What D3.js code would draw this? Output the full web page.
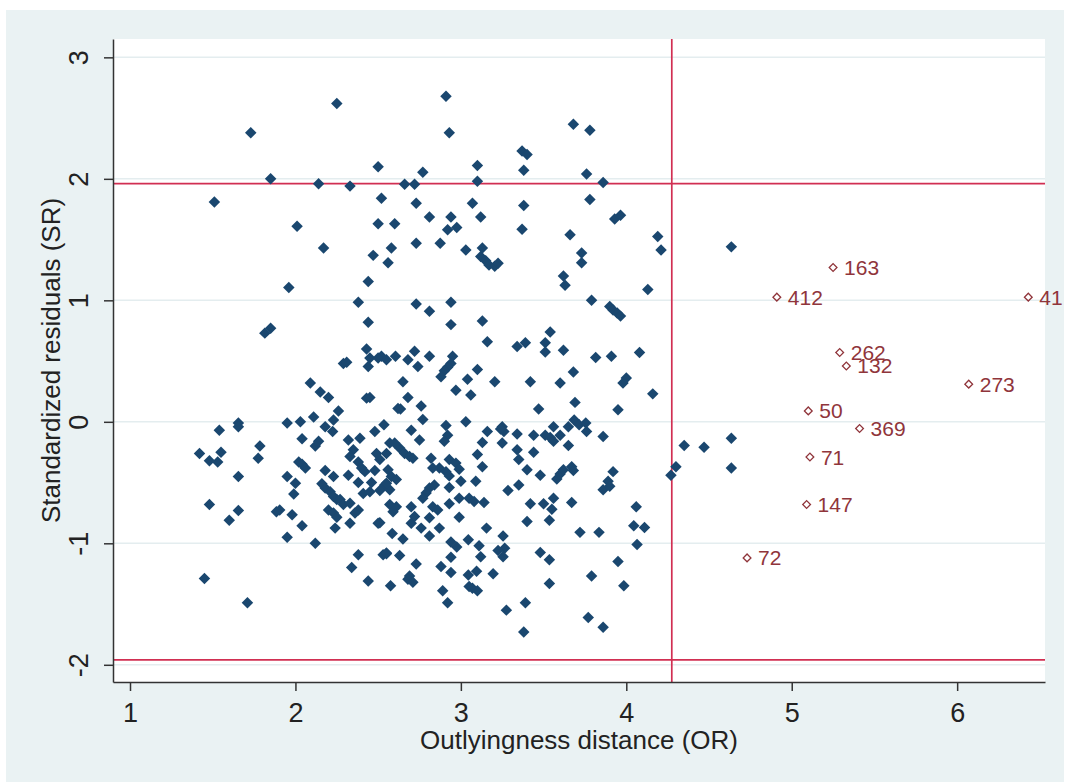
<!DOCTYPE html>
<html>
<head>
<meta charset="utf-8">
<script src="https://cdn.jsdelivr.net/npm/d3@7"></script>
<style>
  body { margin: 0; background: #fff; }
  svg { display: block; font-family: "Liberation Sans", Arial, sans-serif; }
</style>
</head>
<body>
<svg id="svg" width="1068" height="783"></svg>
<script>
"use strict";

// tick labels
const xTicks = [1, 2, 3, 4, 5, 6];
const yTicks = [-2, -1, 0, 1, 2, 3];

// cut-off lines
const srCut = [-1.96, 1.96];
const orCut = 4.275;

// observations: [outlyingness distance, standardized residual]
const points = [
  [2.25,2.62],[1.73,2.38],[1.85,2.00],[1.51,1.81],[2.01,1.61],[2.14,1.96],[2.33,1.94],[2.50,2.10],
  [2.52,1.84],[2.50,1.63],[2.60,1.63],[2.17,1.43],[2.47,1.37],[2.58,1.43],[2.56,1.31],[1.96,1.105],
  [2.44,1.155],[2.38,0.985],[2.91,2.68],[2.93,2.38],[3.68,2.45],[3.78,2.40],[3.37,2.23],[3.40,2.20],
  [3.38,2.07],[3.10,2.11],[3.10,1.98],[2.77,2.055],[2.66,1.955],[2.72,1.955],[2.73,1.80],[2.81,1.685],
  [2.94,1.685],[2.92,1.58],[2.975,1.60],[3.07,1.80],[3.12,1.685],[3.38,1.78],[3.37,1.585],[3.76,2.04],
  [3.86,1.97],[3.78,1.83],[3.93,1.67],[3.965,1.70],[3.66,1.54],[3.73,1.39],[3.73,1.31],[3.62,1.20],
  [3.63,1.125],[3.79,1.00],[4.13,1.09],[4.19,1.525],[4.21,1.415],[4.635,1.44],[2.73,1.47],[2.875,1.47],
  [3.03,1.415],[3.13,1.43],[3.12,1.36],[3.15,1.325],[3.17,1.29],[3.205,1.28],[3.225,1.305],[2.94,0.985],
  [2.73,0.97],[2.81,0.91],[2.94,0.80],[3.13,0.83],[3.90,0.95],[3.92,0.92],[3.945,0.895],[3.965,0.87],
  [3.54,0.74],[3.16,0.66],[3.34,0.62],[3.39,0.65],[3.51,0.65],[3.51,0.575],[3.62,0.59],[3.815,0.53],
  [3.91,0.54],[4.08,0.57],[4.16,0.23],[3.95,0.10],[4.00,0.36],[3.98,0.32],[3.68,0.41],[3.60,0.32],
  [3.69,0.16],[3.42,0.33],[3.47,0.105],[3.205,0.33],[3.10,0.43],[3.04,0.35],[3.06,0.22],[2.97,0.26],
  [2.95,0.54],[2.94,0.48],[2.92,0.45],[2.90,0.42],[2.88,0.37],[2.81,0.54],[2.72,0.58],[2.68,0.51],
  [2.74,0.455],[2.605,0.54],[2.55,0.51],[2.52,0.54],[2.65,0.33],[2.68,0.20],[2.635,0.105],[2.76,0.13],
  [2.77,0.02],[3.03,0.00],[2.91,-0.03],[2.535,-0.025],[2.70,-0.07],[2.75,-0.15],[2.92,-0.11],[2.90,-0.16],
  [3.16,-0.08],[3.13,-0.17],[3.25,-0.04],[3.26,-0.08],[3.24,-0.06],[3.25,-0.175],[3.34,-0.10],[3.44,-0.11],
  [3.51,-0.11],[3.54,-0.13],[3.56,-0.16],[3.56,-0.04],[3.60,-0.11],[3.65,-0.195],[3.65,-0.04],[3.685,0.015],
  [3.715,-0.025],[3.755,-0.01],[3.76,-0.08],[3.86,-0.12],[3.44,-0.25],[3.34,-0.23],[3.35,-0.31],[3.40,-0.395],
  [3.48,-0.44],[3.67,-0.37],[3.68,-0.40],[3.58,-0.47],[3.60,-0.43],[3.62,-0.395],[3.92,-0.41],[3.89,-0.49],
  [3.86,-0.56],[3.90,-0.53],[3.35,-0.52],[3.285,-0.565],[3.42,-0.675],[3.50,-0.675],[3.56,-0.63],[3.55,-0.72],
  [3.535,-0.81],[3.40,-0.82],[3.67,-0.665],[4.06,-0.70],[4.045,-0.855],[4.11,-0.87],[4.065,-1.01],[3.95,-1.15],
  [3.72,-0.91],[3.835,-0.91],[3.48,-1.075],[3.535,-1.135],[3.79,-1.27],[4.27,-0.44],[4.30,-0.37],[4.35,-0.195],
  [4.47,-0.21],[4.635,-0.135],[4.635,-0.38],[3.255,-0.94],[3.265,-1.04],[3.225,-1.06],[3.255,-1.11],[3.155,-0.875],
  [3.11,-1.02],[3.12,-1.11],[3.045,-0.97],[2.94,-0.99],[2.975,-1.03],[2.94,-1.115],[2.88,-1.19],[2.94,-1.24],
  [3.095,-1.23],[3.045,-1.26],[3.195,-1.25],[2.87,-0.875],[2.81,-0.94],[2.76,-0.875],[2.81,-0.79],[2.99,-0.785],
  [2.70,-0.835],[2.73,-1.17],[2.63,-1.10],[2.585,-0.92],[2.65,-0.965],[2.55,-1.085],[2.69,-1.27],[3.05,-0.63],
  [3.08,-0.655],[3.14,-0.665],[2.99,-0.63],[2.93,-0.675],[2.81,-0.545],[2.79,-0.585],[2.77,-0.63],[2.84,-0.52],
  [2.83,-0.70],[2.86,-0.725],[2.70,-0.70],[2.72,-0.78],[3.00,-0.49],[3.09,-0.49],[2.93,-0.54],[2.93,-0.31],
  [2.97,-0.34],[2.99,-0.39],[2.87,-0.38],[2.91,-0.41],[2.93,-0.445],[2.82,-0.30],[2.83,-0.38],[3.10,-0.27],
  [3.13,-0.37],[2.57,-0.175],[2.60,-0.175],[2.63,-0.215],[2.66,-0.26],[2.69,-0.285],[2.71,-0.30],[2.55,-0.26],
  [2.51,-0.31],[2.56,-0.395],[2.58,-0.45],[2.61,-0.475],[2.54,-0.52],[2.57,-0.56],[2.61,-0.70],[2.57,-0.68],
  [2.59,-0.74],[2.51,-0.83],[2.44,0.82],[1.815,0.73],[1.85,0.77],[2.43,0.60],[2.44,0.455],[2.45,0.525],
  [2.50,0.525],[2.29,0.48],[2.31,0.49],[2.09,0.32],[2.15,0.245],[2.20,0.20],[2.43,0.195],[2.45,0.20],
  [2.26,0.09],[2.23,0.015],[2.62,0.11],[1.655,-0.01],[1.655,-0.04],[1.54,-0.07],[1.95,-0.01],[2.03,0.00],
  [2.11,0.04],[2.18,-0.04],[2.225,-0.08],[2.48,-0.08],[2.32,-0.15],[2.39,-0.135],[2.04,-0.14],[2.14,-0.16],
  [2.12,-0.20],[1.785,-0.20],[1.775,-0.30],[1.42,-0.26],[1.55,-0.25],[1.53,-0.33],[1.48,-0.32],[2.02,-0.33],
  [2.04,-0.35],[2.06,-0.38],[2.35,-0.23],[2.33,-0.285],[2.49,-0.26],[2.38,-0.33],[2.40,-0.38],[2.42,-0.41],
  [2.48,-0.40],[2.18,-0.40],[2.23,-0.45],[2.32,-0.44],[2.38,-0.50],[2.46,-0.50],[1.95,-0.45],[2.00,-0.505],
  [1.99,-0.595],[1.655,-0.45],[2.16,-0.51],[2.18,-0.545],[2.21,-0.575],[2.23,-0.615],[2.25,-0.64],[2.27,-0.64],
  [2.29,-0.68],[2.33,-0.67],[2.41,-0.59],[2.45,-0.575],[2.55,-0.505],[2.51,-0.565],[2.20,-0.725],[2.23,-0.75],
  [2.25,-0.785],[2.38,-0.725],[2.36,-0.75],[2.33,-0.835],[2.50,-0.835],[2.24,-0.875],[2.04,-0.855],[1.905,-0.725],
  [1.885,-0.74],[1.98,-0.765],[1.95,-0.95],[2.12,-1.00],[1.48,-0.68],[1.655,-0.73],[1.60,-0.81],[2.38,-1.095],
  [2.34,-1.20],[2.53,-1.095],[2.55,-1.08],[2.44,-1.31],[1.45,-1.29],[1.71,-1.49],[2.575,-1.35],[2.68,-1.295],
  [2.71,-1.32],[2.89,-1.39],[2.92,-1.49],[3.05,-1.355],[3.07,-1.37],[3.10,-1.39],[3.275,-1.55],[3.39,-1.49],
  [3.38,-1.73],[3.535,-1.33],[3.77,-1.61],[3.86,-1.69],[3.985,-1.35]
];

// flagged observations
const outId = ["163", "412", "41", "262", "132", "273", "50", "369", "71", "147", "72"];
const outX  = [5.25, 4.91, 6.43, 5.29, 5.33, 6.07, 5.10, 5.41, 5.11, 5.09, 4.73];
const outY  = [1.27, 1.026, 1.026, 0.57, 0.46, 0.31, 0.09, -0.055, -0.29, -0.68, -1.12];

var svg = d3.select("svg");

var plot = { left: 113, top: 39, right: 1045, bottom: 682 };

var x = d3.scaleLinear().domain([0.8972, 6.531]).range([plot.left, plot.right]);
var y = d3.scaleLinear().domain([-2.1416, 3.151]).range([plot.bottom, plot.top]);

// graph region
svg.append("rect")
    .attr("x", 6).attr("y", 10)
    .attr("width", 1058).attr("height", 772)
    .attr("fill", "#EAF2F3");

svg.append("rect")
    .attr("x", plot.left).attr("y", plot.top)
    .attr("width", plot.right - plot.left).attr("height", plot.bottom - plot.top)
    .attr("fill", "#fff");

// grid
svg.append("g")
    .selectAll("line")
    .data(yTicks)
    .enter()
    .append("line")
        .attr("x1", plot.left).attr("x2", plot.right)
        .attr("y1", d => y(d)).attr("y2", d => y(d))
        .attr("stroke", "#E4EDEF")
        .attr("stroke-width", 1.5);

// reference lines
var refs = svg.append("g")
    .attr("stroke", "#D12F52")
    .attr("stroke-width", 1.7);

refs.selectAll(".hline")
    .data(srCut)
    .enter()
    .append("line")
        .attr("class", "hline")
        .attr("x1", plot.left).attr("x2", plot.right)
        .attr("y1", d => y(d)).attr("y2", d => y(d));

refs.append("line")
    .attr("x1", x(orCut)).attr("x2", x(orCut))
    .attr("y1", plot.top).attr("y2", plot.bottom);

// points
var diamond = d3.symbol().type(d3.symbolSquare).size(66);

svg.append("g")
    .attr("fill", "#1A476F")
    .selectAll("path")
    .data(points)
    .enter()
    .append("path")
        .attr("d", diamond)
        .attr("transform", d => "translate(" + x(d[0]) + "," + y(d[1]) + ") rotate(45)");

// flagged points with labels
var hollow = d3.symbol().type(d3.symbolSquare).size(30);

var flagged = svg.append("g")
    .selectAll("g")
    .data(outId)
    .enter()
    .append("g")
        .attr("transform", (d, i) => "translate(" + x(outX[i]) + "," + y(outY[i]) + ")");

flagged.append("path")
    .attr("d", hollow)
    .attr("transform", "rotate(45)")
    .attr("fill", "none")
    .attr("stroke", "#90353B")
    .attr("stroke-width", 1.3);

flagged.append("text")
    .attr("x", 11)
    .attr("dy", "0.36em")
    .attr("fill", "#90353B")
    .style("font-size", "21px")
    .text(d => d);

// axes (Stata prints a plain hyphen for negatives)
var xAxis = svg.append("g")
    .attr("transform", "translate(0," + plot.bottom + ")")
    .call(d3.axisBottom(x).tickValues(xTicks).tickFormat(d => String(d))
        .tickSize(9).tickSizeOuter(0).tickPadding(12));

var yAxis = svg.append("g")
    .attr("transform", "translate(" + plot.left + ",0)")
    .call(d3.axisLeft(y).tickValues(yTicks).tickFormat(d => String(d))
        .tickSize(9).tickSizeOuter(0));

yAxis.selectAll(".tick text")
    .attr("x", null)
    .attr("dy", null)
    .attr("text-anchor", "middle")
    .attr("transform", "translate(-25,0) rotate(-90)");

[xAxis, yAxis].forEach(function(a) {
    a.select(".domain").attr("stroke", "#333").attr("stroke-width", 1.5);
    a.selectAll(".tick line").attr("stroke", "#333").attr("stroke-width", 1.5);
    a.selectAll(".tick text")
        .attr("fill", "#222")
        .style("font-size", "27px")
        .style("font-family", "\"Liberation Sans\", Arial, sans-serif");
});

// titles
svg.append("text")
    .attr("x", (plot.left + plot.right) / 2)
    .attr("y", 749)
    .attr("text-anchor", "middle")
    .attr("fill", "#222")
    .style("font-size", "26px")
    .text("Outlyingness distance (OR)");

svg.append("text")
    .attr("transform", "translate(60," + (plot.top + plot.bottom) / 2 + ") rotate(-90)")
    .attr("text-anchor", "middle")
    .attr("fill", "#222")
    .style("font-size", "26px")
    .text("Standardized residuals (SR)");
</script>
</body>
</html>
